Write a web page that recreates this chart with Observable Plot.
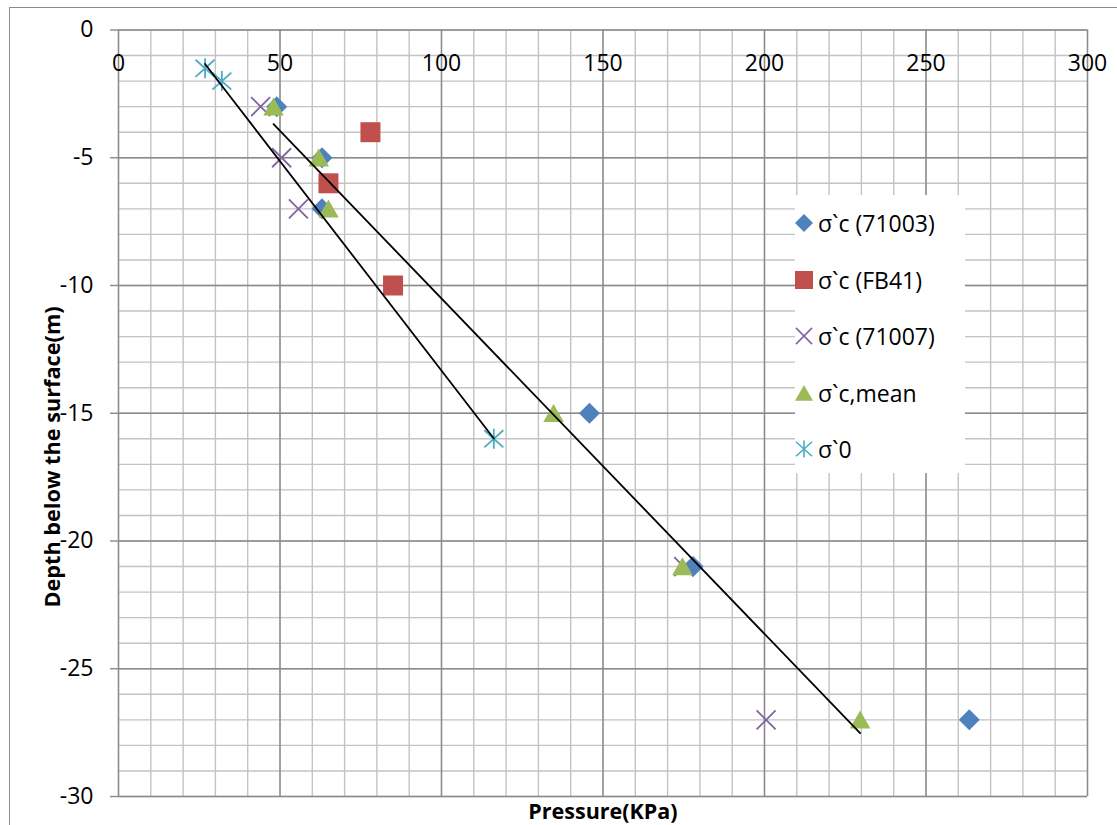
<!DOCTYPE html>
<html><head><meta charset="utf-8">
<script src="https://cdn.jsdelivr.net/npm/d3@7"></script>
<script src="https://cdn.jsdelivr.net/npm/@observablehq/plot@0.6"></script>
<style>
html,body{margin:0;padding:0;background:#fff;overflow:hidden;}
#wrap{position:relative;width:1117px;height:825px;font-family:'Open Sans',sans-serif;}
#frame{position:absolute;left:9px;top:7px;width:1200px;height:900px;border:1.5px solid #8c8c8c;pointer-events:none;}
#legend{position:absolute;left:795px;top:195px;width:170px;height:278px;background:#fff;}
.row{position:absolute;left:0;height:30px;display:flex;align-items:center;font-size:23px;white-space:nowrap;color:#000;}
.row svg{margin-right:4px;}
#ytitle{position:absolute;left:52px;top:457px;transform:translate(-50%,-50%) rotate(-90deg);font-size:21.7px;font-weight:bold;white-space:nowrap;color:#000;line-height:1;}
</style></head><body><div id="wrap"><div id="chart"></div><div id="frame"></div><div id="ytitle"></div><div id="legend"></div></div>
<script>
// ---- data ----
const seriesNames = ["σ`c (71003)", "σ`c (FB41)", "σ`c (71007)", "σ`c,mean", "σ`0"];
const seriesColors = ["#4F81BD", "#C0504D", "#8064A2", "#9BBB59", "#4BACC6"];
const press71003 = [49, 63, 63, 145.8, 177.9, 263.4];
const depth71003 = [-3, -5, -7, -15, -21, -27];
const pressFB41 = [78, 65, 85];
const depthFB41 = [-4, -6, -10];
const press71007 = [44, 50.5, 55.7, 175, 200.5];
const depth71007 = [-3, -5, -7, -21, -27];
const pressMean = [48, 62, 65, 134.7, 174.6, 229.6];
const depthMean = [-3, -5, -7, -15, -21, -27];
const pressSigma0 = [26.8, 32, 116.2];
const depthSigma0 = [-1.5, -2, -16];
const xTicks = [0, 50, 100, 150, 200, 250, 300];
const yTicks = [0, -5, -10, -15, -20, -25, -30];
const xTitle = "Pressure(KPa)";
const yTitle = "Depth below the surface(m)";

const table = (px, dy) => px.map((p, i) => ({p, d: dy[i]}));

// ---- custom marker symbols ----
const rad = s => Math.sqrt(s / Math.PI);
const symDiamond = {draw(c, s){const r = rad(s); c.moveTo(0,-r); c.lineTo(r,0); c.lineTo(0,r); c.lineTo(-r,0); c.closePath();}};
const symSquare = {draw(c, s){const r = rad(s); c.moveTo(-r,-r); c.lineTo(r,-r); c.lineTo(r,r); c.lineTo(-r,r); c.closePath();}};
const symTriangle = {draw(c, s){const r = rad(s); c.moveTo(0,-0.9*r); c.lineTo(r,0.85*r); c.lineTo(-r,0.85*r); c.closePath();}};
const symTimes = {draw(c, s){const r = rad(s)*0.95; c.moveTo(-r,-r); c.lineTo(r,r); c.moveTo(r,-r); c.lineTo(-r,r);}};
const symStar = {draw(c, s){const r = rad(s); const a = r*0.95; c.moveTo(-a,-a*0.9); c.lineTo(a,a*0.9); c.moveTo(a,-a*0.9); c.lineTo(-a,a*0.9); c.moveTo(0,-r); c.lineTo(0,r);}};

const minorX = d3.range(0, 301, 10);
const minorY = d3.range(-30, 1, 1);
const F = "'Open Sans', sans-serif";

const chart = Plot.plot({
  width: 1117, height: 825,
  marginLeft: 118, marginRight: 30, marginTop: 29.5, marginBottom: 29,
  style: {fontFamily: F, background: "transparent", color: "#000"},
  x: {domain: [0, 300], axis: null},
  y: {domain: [-30, 0], axis: null},
  marks: [
    Plot.ruleX(minorX, {stroke: "#c3c3c3", strokeWidth: 1.4}),
    Plot.ruleY(minorY, {stroke: "#c3c3c3", strokeWidth: 1.4}),
    Plot.ruleX(xTicks, {stroke: "#8a8a8a", strokeWidth: 1.4}),
    Plot.ruleY(yTicks, {stroke: "#8a8a8a", strokeWidth: 1.4}),
    Plot.axisY(yTicks, {anchor: "left", tickSize: 8, tickPadding: 17, stroke: "#8a8a8a", strokeWidth: 1.4, fontSize: 23, fill: "#000", label: null, tickFormat: d => String(d)}),
    Plot.text(xTicks, {x: d => d, frameAnchor: "top", dy: 34, text: d => String(d), fontSize: 23, fill: "#000", lineAnchor: "middle"}),
    Plot.dot(table(press71007, depth71007), {x: "p", y: "d", symbol: symTimes, r: 10, fill: "none", stroke: seriesColors[2], strokeWidth: 1.8}),
    Plot.dot(table(press71003, depth71003), {x: "p", y: "d", symbol: symDiamond, r: 10.5, fill: seriesColors[0], stroke: "none"}),
    Plot.dot(table(pressFB41, depthFB41), {x: "p", y: "d", symbol: symSquare, r: 10, fill: seriesColors[1], stroke: "none"}),
    Plot.dot(table(pressMean, depthMean), {x: "p", y: "d", symbol: symTriangle, r: 10.3, fill: seriesColors[3], stroke: "none"}),
    Plot.dot(table(pressSigma0, depthSigma0), {x: "p", y: "d", symbol: symStar, r: 10, fill: "none", stroke: seriesColors[4], strokeWidth: 1.8}),
    Plot.linearRegressionY(table(pressMean, depthMean), {x: "p", y: "d", ci: 0, stroke: "#000", strokeWidth: 1.8}),
    Plot.linearRegressionY(table(pressSigma0, depthSigma0), {x: "p", y: "d", ci: 0, stroke: "#000", strokeWidth: 1.8}),
    Plot.text([xTitle], {frameAnchor: "bottom", dy: 16, text: d => d, fontSize: 21.5, fontWeight: "bold", fill: "#000", lineAnchor: "middle"})
  ]
});
document.getElementById("chart").appendChild(chart);
document.getElementById("ytitle").textContent = yTitle;

// ---- legend ----
const syms = [symDiamond, symSquare, symTimes, symTriangle, symStar];
const symR = [9, 9, 8.5, 9, 8.5];
const filled = [true, true, false, true, false];
const legend = document.getElementById("legend");
seriesNames.forEach((name, i) => {
  const row = document.createElement("div");
  row.className = "row";
  row.style.top = (13 + i * 56.5) + "px";
  const path = d3.path();
  syms[i].draw(path, symR[i] * symR[i] * Math.PI);
  const col = seriesColors[i];
  row.innerHTML = `<svg width="20" height="20" viewBox="-10 -10 20 20" style="margin-left:-1px"><path d="${path.toString()}" fill="${filled[i] ? col : "none"}" stroke="${filled[i] ? "none" : col}" stroke-width="1.6"/></svg><span>${name}</span>`;
  legend.appendChild(row);
});
</script></body></html>
